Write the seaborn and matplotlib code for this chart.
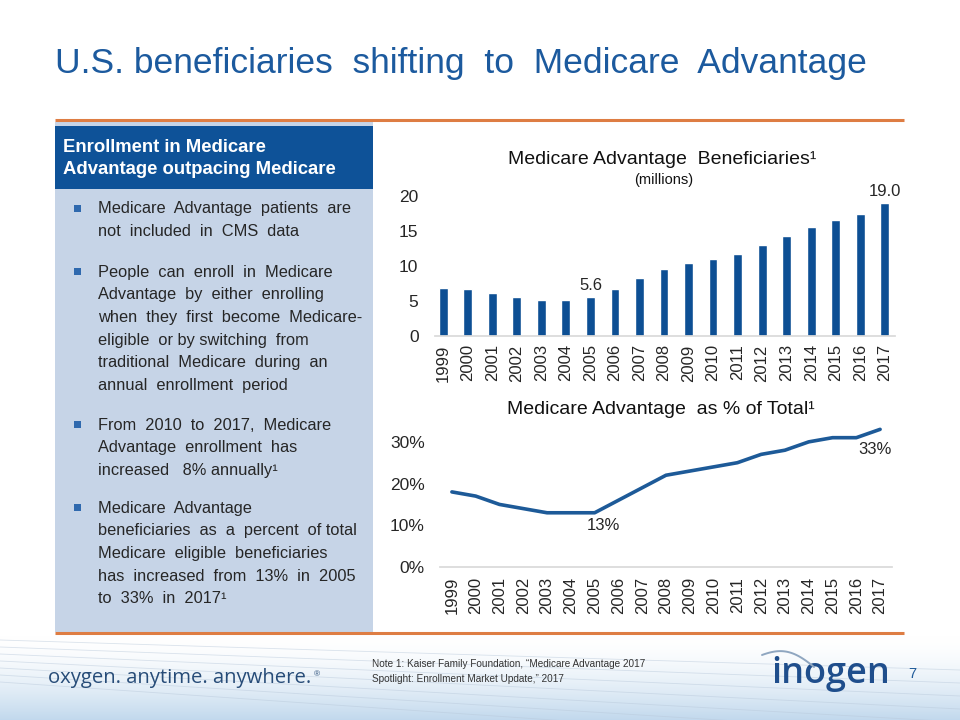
import numpy as np
import pandas as pd
import matplotlib
matplotlib.use("Agg")
import matplotlib.pyplot as plt
from matplotlib.patches import Rectangle
from matplotlib.ticker import PercentFormatter
import seaborn as sns

# ---------------- data ----------------
years = ["1999", "2000", "2001", "2002", "2003", "2004", "2005", "2006", "2007",
         "2008", "2009", "2010", "2011", "2012", "2013", "2014", "2015", "2016", "2017"]
beneficiaries = [6.9, 6.7, 6.1, 5.6, 5.1, 5.1, 5.6, 6.7, 8.3, 9.6, 10.4, 11.0,
                 11.7, 13.0, 14.3, 15.6, 16.6, 17.4, 19.0]
pct_of_total = [0.18, 0.17, 0.15, 0.14, 0.13, 0.13, 0.13, 0.16, 0.19, 0.22, 0.23,
                0.24, 0.25, 0.27, 0.28, 0.30, 0.31, 0.31, 0.33]
bar_labels_years = ["2005", "2017"]
line_labels_years = ["2005", "2017"]

title = "U.S. beneficiaries  shifting  to  Medicare  Advantage"
header_lines = ["Enrollment in Medicare", "Advantage outpacing Medicare"]
bullets = [
    ["Medicare  Advantage  patients  are", "not  included  in  CMS  data"],
    ["People  can  enroll  in  Medicare", "Advantage  by  either  enrolling",
     "when  they  first  become  Medicare-", "eligible  or by switching  from",
     "traditional  Medicare  during  an", "annual  enrollment  period"],
    ["From  2010  to  2017,  Medicare", "Advantage  enrollment  has",
     "increased   8% annually\u00b9"],
    ["Medicare  Advantage", "beneficiaries  as  a  percent  of total",
     "Medicare  eligible  beneficiaries", "has  increased  from  13%  in  2005",
     "to  33%  in  2017\u00b9"],
]
note_lines = ["Note 1: Kaiser Family Foundation, \u201cMedicare Advantage 2017",
              "Spotlight: Enrollment Market Update,\u201d 2017"]

# ---------------- style ----------------
sns.set_theme(style="white")
plt.rcParams["font.family"] = ["Liberation Sans", "DejaVu Sans"]

BLUE_DARK = "#0E5298"
BAR_BLUE = "#0D4F94"
LINE_BLUE = "#1D5A98"
TITLE_BLUE = "#1C5A9E"
PANEL = "#C6D4E7"
ORANGE = "#DE7D43"
TXT = "#262626"
GRID = "#D9D9D9"

W, H = 960, 720
fig = plt.figure(figsize=(9.6, 7.2), dpi=100)

# background / slide decoration axes in pixel coordinates
bg = fig.add_axes([0, 0, 1, 1], zorder=0)
bg.set_xlim(0, W)
bg.set_ylim(H, 0)
bg.axis("off")

# footer gradient
grad = np.linspace(0, 1, 100)[:, None] ** 1.6
c0 = np.array([1.0, 1.0, 1.0])
c1 = np.array([0.76, 0.85, 0.93])
img = c0 + (c1 - c0) * grad[..., None]
img = np.repeat(img, 2, axis=1)
bg.imshow(img, extent=[0, W, H, 636], aspect="auto", zorder=0)
tt = np.linspace(0, 1, 200)
for k in range(7):
    xs = tt * W
    ys = 640 + k * 7 + (30 + k * 6) * tt
    bg.plot(xs, ys, color="#B8C8DA", lw=0.6, alpha=0.5, zorder=1)

# orange rules
bg.plot([55, 904], [120, 120], color=ORANGE, lw=2.2, solid_capstyle="butt", zorder=3)
bg.plot([55, 904], [633, 633], color=ORANGE, lw=2.2, solid_capstyle="butt", zorder=3)

# left panel
bg.add_patch(Rectangle((55, 122), 318, 510, fc=PANEL, ec="none", zorder=2))
bg.add_patch(Rectangle((55, 126), 318, 63, fc=BLUE_DARK, ec="none", zorder=2))
for i, line in enumerate(header_lines):
    bg.text(63, 148 + 22 * i, line, color="white", fontsize=13.3, fontweight="bold",
            va="center", ha="left", zorder=4)

bullet_starts = [209, 272, 425, 508]
for start, lines in zip(bullet_starts, bullets):
    bg.add_patch(Rectangle((74, start - 4), 6.5, 6.5, fc="#2F69AE", ec="none", zorder=4))
    for j, line in enumerate(lines):
        bg.text(98, start + 22.7 * j, line, color=TXT, fontsize=11.8,
                va="center", ha="left", zorder=4)

# title
bg.text(55, 63, title, color=TITLE_BLUE, fontsize=25.5, va="center", ha="left", zorder=4)

# footer
bg.text(48, 683, "oxygen. anytime. anywhere.", color="#274C78", fontsize=14.6,
        family=["Open Sans", "DejaVu Sans"], va="baseline", ha="left", zorder=4)
bg.text(314, 675, "\u00ae", color="#274C78", fontsize=6, va="center", ha="left", zorder=4)
for i, line in enumerate(note_lines):
    bg.text(372, 664 + 14.5 * i, line, color="#333333", fontsize=7.2,
            family=["Liberation Sans Narrow", "Liberation Sans"],
            va="center", ha="left", zorder=4)
bg.text(831, 683, "inogen", color="#1F4E8C", fontsize=26, ha="center", va="baseline",
        fontweight="semibold", family=["Open Sans", "DejaVu Sans"], zorder=4)
ta = np.linspace(0, 1, 60)
bg.plot(762 + 52 * ta, 655 - 6 * np.sin(np.pi * ta) + 12 * ta ** 2, color="#8FA6C0",
        lw=1.4, zorder=4)
bg.text(912, 674, "7", color="#1F5A99", fontsize=10.5, ha="center", va="center", zorder=4)

# ---------------- bar chart ----------------
df_bar = pd.DataFrame({"year": years, "value": beneficiaries})
ax1 = fig.add_axes([431 / W, 1 - 336 / H, 466 / W, 140 / H], zorder=5)
ax1.patch.set_alpha(0)
sns.barplot(data=df_bar, x="year", y="value", color=BAR_BLUE, saturation=1,
            width=0.36, ax=ax1)
ax1.set_ylim(0, 20)
ax1.set_xlim(-0.5, len(years) - 0.5)
ax1.set_yticks([0, 5, 10, 15, 20])
ax1.set_xlabel("")
ax1.set_ylabel("")
for s in ["top", "right", "left"]:
    ax1.spines[s].set_visible(False)
ax1.spines["bottom"].set_color(GRID)
ax1.spines["bottom"].set_bounds(-0.35, len(years) - 0.6)
ax1.tick_params(axis="x", labelrotation=90, labelsize=12, labelcolor=TXT, length=0, pad=6)
ax1.tick_params(axis="y", labelsize=12.5, labelcolor=TXT, length=0, pad=9)
for y in bar_labels_years:
    i = years.index(y)
    ax1.annotate(f"{beneficiaries[i]:.1f}", xy=(i, beneficiaries[i]), xytext=(0, 3),
                 textcoords="offset points", ha="center", va="bottom",
                 fontsize=12, color=TXT, annotation_clip=False)
fig.text(662 / W, 1 - 160 / H, "Medicare Advantage  Beneficiaries\u00b9", ha="center",
         va="center", fontsize=14, color="#111111")
fig.text(664 / W, 1 - 180 / H, "(millions)", ha="center", va="center",
         fontsize=10.5, color="#111111")

# ---------------- line chart ----------------
df_line = pd.DataFrame({"pos": np.arange(len(years)), "pct": pct_of_total})
ax2 = fig.add_axes([440 / W, 1 - 567 / H, 452 / W, 146 / H], zorder=5)
ax2.patch.set_alpha(0)
sns.lineplot(data=df_line, x="pos", y="pct", color=LINE_BLUE, lw=2.6, ax=ax2)
ax2.set_xlim(-0.5, len(years) - 0.5)
ax2.set_ylim(0, 0.35)
ax2.set_yticks([0, 0.1, 0.2, 0.3])
ax2.yaxis.set_major_formatter(PercentFormatter(1.0, decimals=0))
ax2.set_xticks(np.arange(len(years)))
ax2.set_xticklabels(years)
ax2.set_xlabel("")
ax2.set_ylabel("")
for s in ["top", "right", "left"]:
    ax2.spines[s].set_visible(False)
ax2.spines["bottom"].set_color(GRID)
ax2.tick_params(axis="x", labelrotation=90, labelsize=12, labelcolor=TXT, length=0, pad=7)
ax2.tick_params(axis="y", labelsize=12.5, labelcolor=TXT, length=0, pad=11)
offsets = {"2005": (6, -4), "2017": (-4, -9)}
for y in line_labels_years:
    i = years.index(y)
    ax2.annotate(f"{pct_of_total[i]:.0%}", xy=(i, pct_of_total[i]), xytext=offsets[y],
                 textcoords="offset points", ha="center", va="top",
                 fontsize=12, color=TXT, annotation_clip=False)
fig.text(661 / W, 1 - 410 / H, "Medicare Advantage  as % of Total\u00b9", ha="center",
         va="center", fontsize=14, color="#111111")

fig.savefig("out.png", dpi=100)
